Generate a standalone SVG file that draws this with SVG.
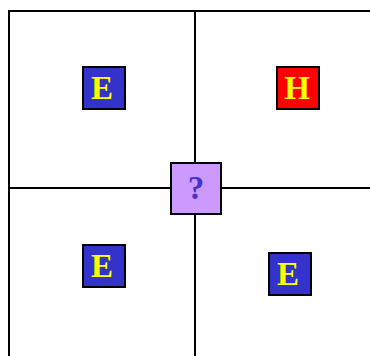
<svg xmlns="http://www.w3.org/2000/svg" width="370" height="356" viewBox="0 0 370 356">
<style>
.ln{stroke:#000;stroke-width:2;fill:none}
.box{stroke:#000;stroke-width:2}
.e{fill:#3333cc}
.h{fill:#ff0000}
.q{fill:#cc99ff}
.t{font-family:"Liberation Serif","Times New Roman",serif;font-weight:bold;font-size:33px;text-anchor:middle}
.ty{fill:#ffff00}
.tq{fill:#4433cc}
</style>
<rect width="370" height="356" fill="#fff"/>
<g id="connectors">
<path class="ln" d="M9,356 V11 H370"/>
<path class="ln" d="M195,11 V356"/>
<path class="ln" d="M9,188 H370"/>
</g>
<g id="nodeE1"><rect class="box e" x="83" y="67" width="42" height="42"/><text class="t ty" x="102" y="99">E</text></g>
<g id="nodeH"><rect class="box h" x="277" y="67" width="42" height="42"/><text class="t ty" x="297" y="99">H</text></g>
<g id="nodeQ"><rect class="box q" x="171" y="163" width="50" height="51"/><text class="t tq" x="196" y="199">?</text></g>
<g id="nodeE2"><rect class="box e" x="83" y="245" width="42" height="42"/><text class="t ty" x="102" y="277">E</text></g>
<g id="nodeE3"><rect class="box e" x="269" y="253" width="42" height="42"/><text class="t ty" x="288" y="285">E</text></g>
</svg>
